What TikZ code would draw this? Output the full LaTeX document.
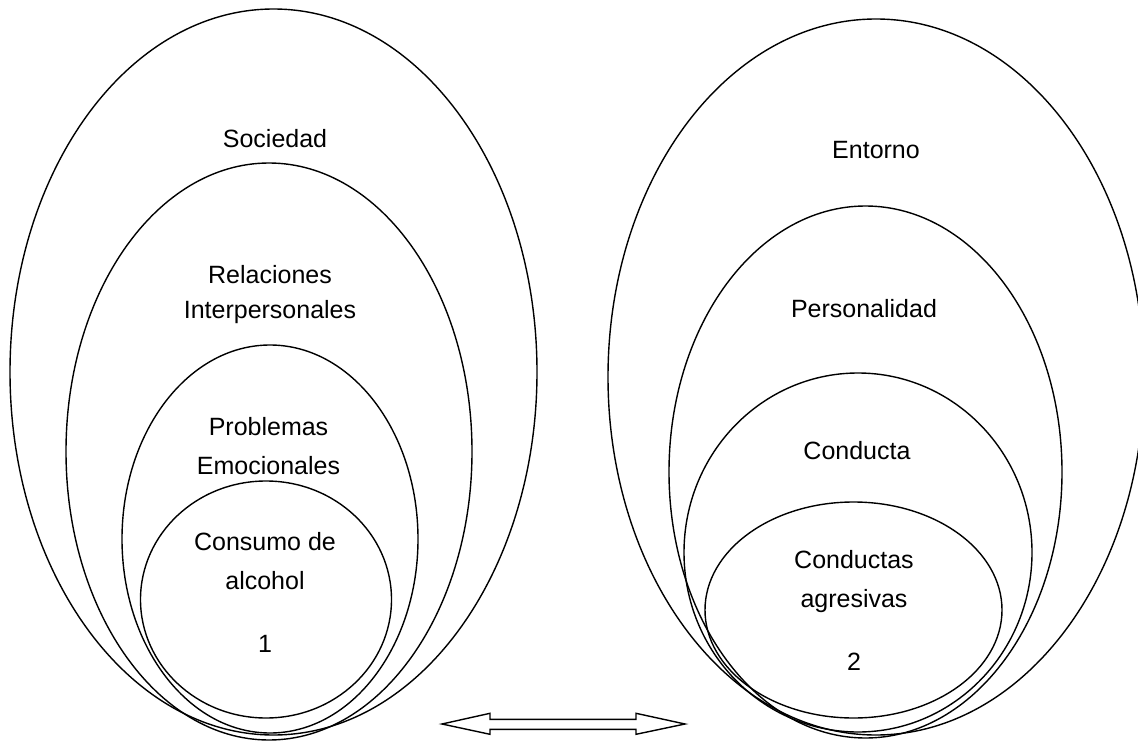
\documentclass[tikz,border=0pt]{standalone}
\usepackage{fontspec}
\setmainfont{Liberation Sans}
\usetikzlibrary{shapes.geometric}
\begin{document}
\begin{tikzpicture}[x=1pt,y=-1pt,
  ell/.style={draw=black, line width=1.4pt, ellipse, inner sep=0pt},
  lbl/.style={anchor=base, inner sep=0pt, font=\fontsize{25}{30}\selectfont},
  barrow/.style={draw=black, line width=1.4pt, line join=miter}]
\useasboundingbox (0,0) rectangle (1138,741);
% left group
\node[ell, minimum width=527pt, minimum height=726pt] (e1) at (273.5,372) {};
\node[ell, minimum width=406pt, minimum height=577pt] (e2) at (269,451.5) {};
\node[ell, minimum width=296pt, minimum height=388pt] (e3) at (270,539) {};
\node[ell, minimum width=251pt, minimum height=237pt] (e4) at (266,599.5) {};
% right group
\node[ell, minimum width=536pt, minimum height=716pt] (r1) at (876,377) {};
\node[ell, minimum width=393pt, minimum height=532pt] (r2) at (865.5,472) {};
\node[ell, minimum width=348pt, minimum height=359pt] (r3) at (858,552.5) {};
\node[ell, minimum width=297pt, minimum height=216pt] (r4) at (853.5,610) {};
% labels left
\node[lbl] (t1) at (275,148) {Sociedad};
\node[lbl] (t2) at (270,283) {Relaciones};
\node[lbl] (t3) at (270,318) {Interpersonales};
\node[lbl] (t4) at (268.5,435) {Problemas};
\node[lbl] (t5) at (268.5,474) {Emocionales};
\node[lbl] (t6) at (265,550) {Consumo de};
\node[lbl] (t7) at (265,589) {alcohol};
\node[lbl] (t8) at (265,652) {1};
% labels right
\node[lbl] (u1) at (876,159) {Entorno};
\node[lbl] (u2) at (864,317) {Personalidad};
\node[lbl] (u3) at (857,459) {Conducta};
\node[lbl] (u4) at (854,568) {Conductas};
\node[lbl] (u5) at (854,607) {agresivas};
\node[lbl] (u6) at (854,670) {2};
% double block arrow
\coordinate (aL) at (442,724);
\coordinate (aR) at (685,724);
\draw[barrow] (aL) -- (490,713.3) -- (490,719.3) -- (636,719.3) -- (636,713.3) -- (aR)
  -- (636,734.3) -- (636,729.3) -- (490,729.3) -- (490,734.3) -- cycle;
\end{tikzpicture}
\end{document}
